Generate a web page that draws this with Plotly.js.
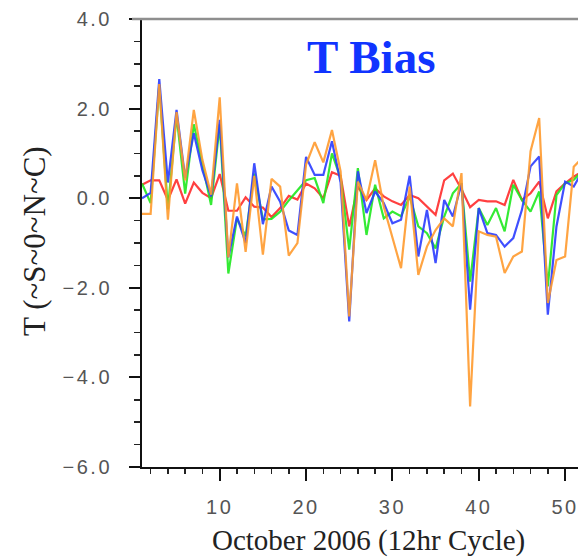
<!DOCTYPE html>
<html>
<head>
<meta charset="utf-8">
<script src="https://cdn.plot.ly/plotly-3.0.1.min.js"></script>
<style>
html,body{margin:0;padding:0;overflow:hidden;background:#fff;}
#chart{width:620px;height:558px;}
.xtick text,.ytick text{letter-spacing:2.5px;}
</style>
</head>
<body>
<div id="chart"></div>
<script>
// x: 12-hour cycle index, October 2006
const cycles = [1,2,3,4,5,6,7,8,9,10,11,12,13,14,15,16,17,18,19,20,21,22,23,24,25,26,
  27,28,29,30,31,32,33,34,35,36,37,38,39,40,41,42,43,44,45,46,47,48,49,50,51,52];

const redBias = [0.30,0.40,0.40,-0.04,0.42,-0.12,0.35,0.12,0.00,0.54,-0.28,-0.28,0.02,-0.19,-0.21,-0.42,
  -0.22,0.05,-0.03,0.33,0.22,0.00,0.58,0.50,-0.63,0.26,-0.04,0.22,0.04,-0.07,-0.15,0.07,0.00,-0.19,
  -0.37,0.40,0.55,0.20,-0.20,-0.04,-0.07,-0.07,-0.15,0.41,-0.04,0.11,0.37,-0.45,0.15,0.33,0.48,0.60];

const greenBias = [0.33,-0.11,2.52,-0.25,1.85,0.10,1.65,0.75,-0.15,1.65,-1.68,-0.45,-0.85,0.55,-0.47,-0.46,
  -0.30,-0.05,0.17,0.40,0.45,-0.11,1.00,0.45,-1.15,0.67,-0.82,0.30,-0.45,-0.30,-0.40,0.04,-0.63,-0.78,
  -1.12,-0.41,0.11,0.33,-1.86,-0.22,-0.60,-0.22,-0.74,0.30,-0.04,-0.30,0.15,-1.97,0.07,0.33,0.41,0.60];

const blueBias = [0.00,0.12,2.66,0.35,1.97,0.45,1.45,0.62,0.04,1.75,-1.32,-0.41,-1.00,0.78,-0.58,0.26,
  -0.08,-0.72,-0.82,0.92,0.52,0.52,1.27,0.35,-2.75,0.60,-0.33,0.15,-0.11,-0.56,-0.48,0.50,-1.30,-0.26,
  -1.45,-0.04,-0.41,0.33,-2.49,-0.22,-0.78,-0.82,-1.08,-0.89,-0.26,0.71,0.93,-2.60,-0.63,0.37,0.26,0.60];

const orangeBias = [-0.35,-0.35,2.55,-0.48,1.92,0.40,1.97,0.85,0.08,2.25,-1.32,0.33,-1.20,0.50,-1.26,0.43,
  0.26,-1.28,-1.00,0.75,1.25,0.80,1.52,0.60,-2.64,0.37,-0.04,0.85,-0.19,-0.85,-1.56,0.26,-1.71,-1.08,
  -0.71,-0.45,-0.63,0.56,-4.65,-0.74,-0.82,-0.86,-1.67,-1.30,-1.19,1.05,1.79,-2.34,-1.38,-1.30,0.70,0.90];

const yTickVals = [-6,-4,-2,0,2,4];
const xTickVals = [10,20,30,40,50];

const titleText = 'T Bias';
const xTitleText = 'October 2006 (12hr Cycle)';
const yTitleText = 'T (~S~0~N~C)';

// page geometry (pixels)
const W = 620, H = 558;
const L = 142, R = 591, T = 19, B = 467;
const px2fx = p => (p - L) / (R - L);
const py2fy = p => (B - p) / (B - T);

function series(y, color) {
  return {x: cycles, y: y, type: 'scatter', mode: 'lines',
    line: {color: color, width: 2.2}, opacity: 0.9, hoverinfo: 'skip', showlegend: false};
}

const data = [
  series(redBias, '#ff2b2b'),
  series(greenBias, '#1ee81e'),
  series(blueBias, '#2a3cff'),
  series(orangeBias, '#ff9a2e')
];

const layout = {
  width: W, height: H,
  margin: {l: L, r: W - R, t: T, b: H - B, pad: 0},
  paper_bgcolor: '#fff', plot_bgcolor: '#fff',
  showlegend: false,
  xaxis: {
    range: [1, 53], tickvals: xTickVals, ticktext: xTickVals.map(String),
    ticks: 'outside', ticklen: 12, tickwidth: 2, tickcolor: '#111',
    showline: true, linecolor: '#111', linewidth: 2, mirror: false,
    showgrid: false, zeroline: false,
    minor: {dtick: 2, tick0: 0, ticks: 'outside', ticklen: 5, tickwidth: 1.5, tickcolor: '#222', showgrid: false},
    tickfont: {family: 'Liberation Sans, Arial, sans-serif', size: 20, color: '#555'},
    ticklabelstandoff: 9
  },
  yaxis: {
    range: [-6, 4], tickvals: yTickVals, ticktext: yTickVals.map(v => (v < 0 ? '\u2212' : '') + Math.abs(v).toFixed(1)),
    ticks: 'outside', ticklen: 11, tickwidth: 2, tickcolor: '#111',
    showline: true, linecolor: '#111', linewidth: 2, mirror: false,
    showgrid: false, zeroline: false,
    minor: {dtick: 0.5, tick0: 0, ticks: 'outside', ticklen: 6, tickwidth: 1.5, tickcolor: '#222', showgrid: false},
    tickfont: {family: 'Liberation Sans, Arial, sans-serif', size: 20, color: '#555'},
    ticklabelstandoff: 13
  },
  shapes: [
    {type: 'line', xref: 'paper', yref: 'paper', x0: px2fx(132), x1: 1.2, y0: 1, y1: 1,
     line: {color: '#8e8e8e', width: 2.5}}
  ],
  annotations: [
    {text: '<b>' + titleText + '</b>', xref: 'paper', yref: 'paper', x: px2fx(371), y: py2fy(57),
     xanchor: 'center', yanchor: 'middle', showarrow: false,
     font: {family: 'Liberation Serif, Times New Roman, serif', size: 47, color: '#1034ff'}},
    {text: xTitleText, xref: 'paper', yref: 'paper', x: px2fx(368), y: py2fy(540),
     xanchor: 'center', yanchor: 'middle', showarrow: false,
     font: {family: 'Liberation Serif, Times New Roman, serif', size: 29, color: '#222'}},
    {text: yTitleText, xref: 'paper', yref: 'paper', x: px2fx(34), y: py2fy(241),
     xanchor: 'center', yanchor: 'middle', textangle: -90, showarrow: false,
     font: {family: 'Liberation Serif, Times New Roman, serif', size: 31, color: '#222'}}
  ]
};

Plotly.newPlot('chart', data, layout, {displayModeBar: false, staticPlot: true});
</script>
</body>
</html>
